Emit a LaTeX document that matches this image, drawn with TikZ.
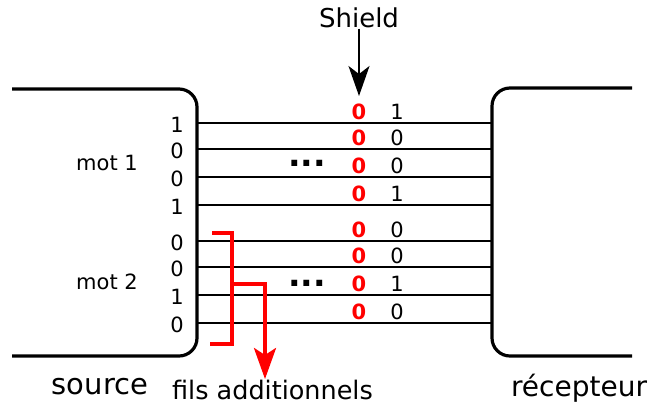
\documentclass[tikz,border=0pt]{standalone}
\usepackage{fontspec}
\setmainfont{DejaVu Sans}
\usetikzlibrary{arrows.meta}

\tikzset{
  box/.style={line width=3.2pt, rounded corners=18pt},
  wire/.style={line width=1.5pt},
  bit/.style={font=\fontsize{21}{24}\selectfont, inner sep=0pt},
  zbit/.style={font=\fontsize{21}{24}\selectfont\bfseries, text=red, inner sep=0pt},
  dots/.style={font=\fontsize{33}{36}\selectfont\bfseries, inner sep=0pt},
  lbl/.style={font=\fontsize{#1}{#1}\selectfont, inner sep=1pt, anchor=base},
  extra/.style={red, line width=3.5pt},
}

\begin{document}
\begin{tikzpicture}[x=1pt, y=-1pt]
  \useasboundingbox (0,0) rectangle (652,408);

  \draw[box] (12,89) -| (197,356) -- (12,356);
  \draw[box] (632,88) -| (492,356) -- (632,356);

  \foreach \y/\b [count=\i] in {123/1,149/0,177/0,205/1,241/0,267/0,295/1,323/0} {
    \coordinate (s\i) at (197,\y);
    \coordinate (r\i) at (492,\y);
    \draw[wire] (s\i) -- (r\i);
    \node[bit]  (in\i)  at (177,{\y+2})  {\b};
    \node[zbit] (z\i)   at (359,{\y-11}) {0};
    \node[bit]  (out\i) at (397,{\y-11}) {\b};
  }

  \node[bit] (mot1) at (107,163) {mot 1};
  \node[bit] (mot2) at (107,282) {mot 2};
  \node[dots] (dots1) at (307,163) {...};
  \node[dots] (dots2) at (307,283) {...};

  \node[lbl=26] (shield) at (359,27) {Shield};
  \coordinate (shtip) at (359,96);
  \draw[line width=1.6pt, -{Stealth[length=30pt, width=21pt, inset=8pt]}] (shield.south) -- (shtip);

  \coordinate (b1) at (212,233);
  \coordinate (b2) at (232,344);
  \coordinate (b3) at (210,344);
  \coordinate (bm) at (232,284);
  \coordinate (ftip) at (265,379);
  \draw[extra] (b1) -| (b2) -- (b3);
  \draw[extra, -{Stealth[length=31pt, width=22pt, inset=7pt]}] (bm) -| (ftip);

  \node[lbl=29] (source) at (100,394) {source};
  \node[lbl=25.5] (fils) at (272.5,399) {fils additionnels};
  \node[lbl=28] (recep) at (579,396) {récepteur};
\end{tikzpicture}
\end{document}
